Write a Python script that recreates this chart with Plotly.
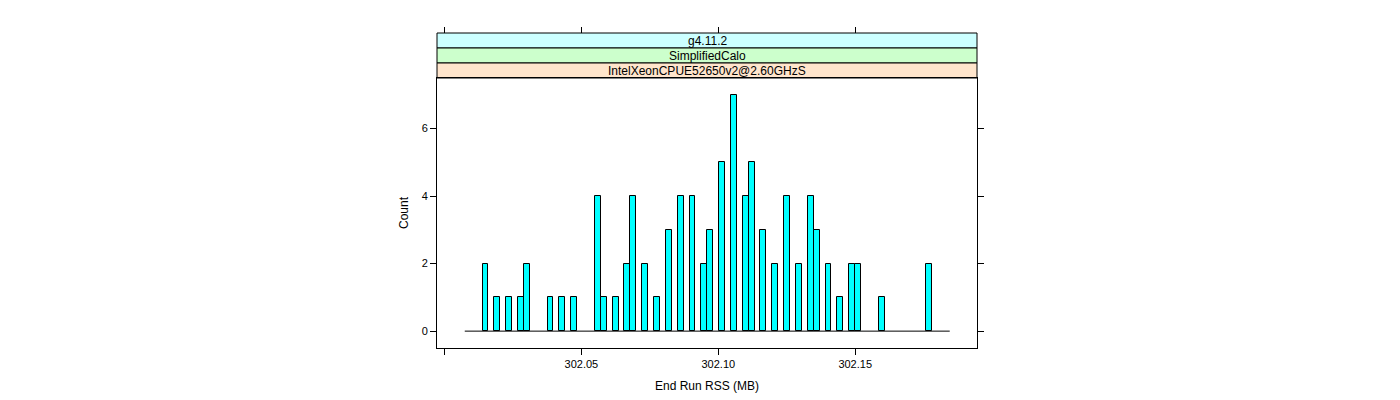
import plotly.graph_objects as go
import numpy as np

# histogram bins (End Run RSS, MB)
bin_start = 302.0074
bin_width = 0.00216
counts = [
    0, 0, 0, 2, 0, 1, 0, 1, 0, 1,
    2, 0, 0, 0, 1, 0, 1, 0, 1, 0,
    0, 0, 4, 1, 0, 1, 0, 2, 4, 0,
    2, 0, 1, 0, 3, 0, 4, 0, 4, 0,
    2, 3, 0, 5, 0, 7, 0, 4, 5, 0,
    3, 0, 2, 0, 4, 0, 2, 0, 4, 3,
    0, 2, 0, 1, 0, 2, 2, 0, 0, 0,
    1, 0, 0, 0, 0, 0, 0, 0, 2, 0,
    0, 0,
]
x_ticks = [302.00, 302.05, 302.10, 302.15]
x_ticktext = ["", "302.05", "302.10", "302.15"]
y_ticks = [0, 2, 4, 6]
strips = ["g4.11.2", "SimplifiedCalo", "IntelXeonCPUE52650v2@2.60GHzS"]
strip_colors = ["#ccffff", "#ccffcc", "#ffe5cc"]

counts = np.array(counts)
edges = bin_start + bin_width * np.arange(len(counts) + 1)
centers = (edges[:-1] + edges[1:]) / 2
nz = counts > 0

FONT = "Liberation Sans, Arial, sans-serif"

fig = go.Figure()
# zero-count bins show as a flat line
fig.add_trace(go.Scatter(x=[edges[0], edges[-1]], y=[0, 0], mode="lines",
                         line=dict(color="black", width=1), hoverinfo="skip", showlegend=False))
fig.add_trace(go.Bar(x=centers[nz], y=counts[nz], width=bin_width,
                     marker=dict(color="#00ffff", line=dict(color="black", width=1)),
                     showlegend=False))
# invisible trace for top tick marks
fig.add_trace(go.Scatter(x=[edges[0]], y=[0], xaxis="x2", mode="markers",
                         marker=dict(opacity=0), hoverinfo="skip", showlegend=False))

panel_top = 270 / 315
strip_h = 15 / 315
for i, (lab, col) in enumerate(zip(strips, strip_colors)):
    y1 = 1 - i * strip_h
    y0 = y1 - strip_h
    fig.add_shape(type="rect", xref="paper", yref="paper", x0=0, x1=1, y0=y0, y1=y1,
                  fillcolor=col, line=dict(color="black", width=1), layer="below")
    fig.add_annotation(x=0.5, y=(y0 + y1) / 2, xref="paper", yref="paper", text=lab,
                       xanchor="center", yanchor="middle", showarrow=False,
                       font=dict(size=12, color="black", family=FONT))

axis_common = dict(showgrid=False, zeroline=False, ticks="outside", ticklen=6,
                   tickcolor="black", linecolor="black", linewidth=1, showline=True,
                   tickfont=dict(size=11, color="black", family=FONT))

fig.update_layout(
    width=1400, height=400,
    margin=dict(l=429, r=431, t=25, b=60),
    plot_bgcolor="white", paper_bgcolor="white",
    bargap=0,
    xaxis=dict(range=[301.99726, 302.19448], tickvals=x_ticks, ticktext=x_ticktext,
               mirror=True, title=dict(text="End Run RSS (MB)", standoff=12,
                                        font=dict(size=12, color="black", family=FONT)),
               **axis_common),
    xaxis2=dict(range=[301.99726, 302.19448], tickvals=x_ticks, showticklabels=False,
                overlaying="x", side="top", anchor="free", position=1,
                showgrid=False, zeroline=False, ticks="outside", ticklen=6,
                tickcolor="black", showline=False),
    yaxis=dict(range=[-0.5, 7.5], tickvals=y_ticks, domain=[0, panel_top], mirror="ticks",
               title=dict(text="Count", standoff=10,
                          font=dict(size=12, color="black", family=FONT)),
               **axis_common),
)

fig.write_html("out.html")
